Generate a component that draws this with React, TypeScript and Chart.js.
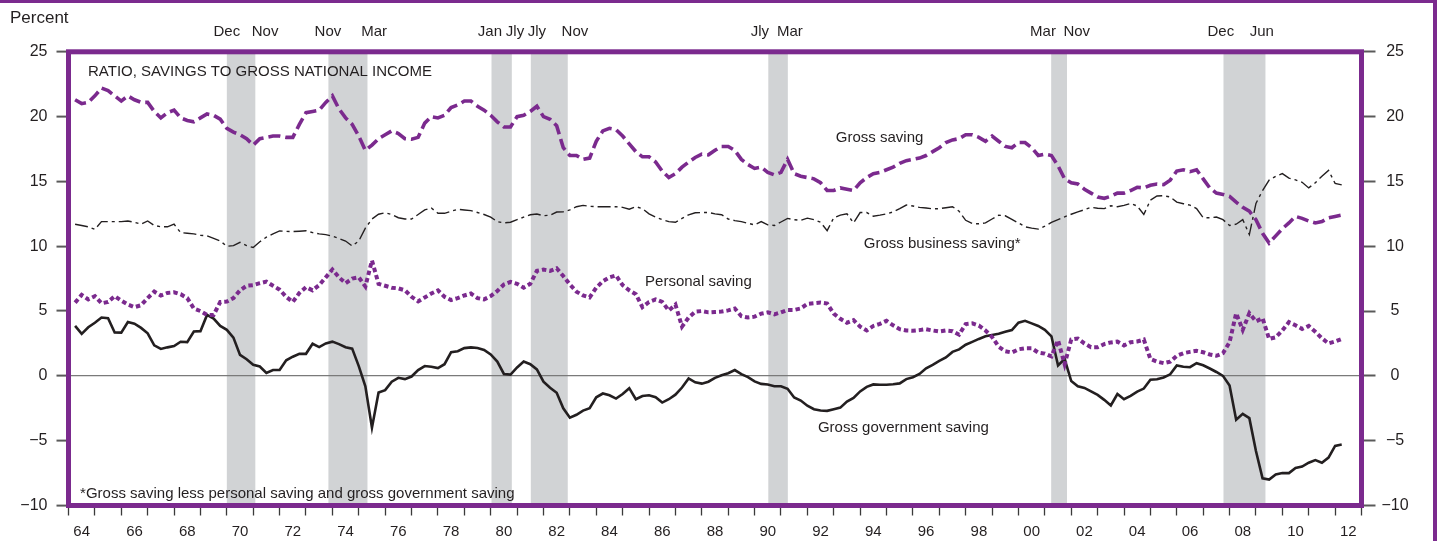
import React, { useEffect, useRef } from 'react';
import { Chart, registerables } from 'chart.js';

Chart.register(...registerables);

// Quarterly observations, 1964Q1 .. 2012Q1 (plotted at quarter end)
const START_YEAR = 1964;

const grossSaving = [
  21.3, 21.0, 21.1, 21.6, 22.2, 22.0, 21.6, 21.2, 21.6, 21.3,
  21.1, 21.1, 20.4, 19.9, 20.3, 20.5, 19.9, 19.7, 19.6, 19.9,
  20.2, 20.1, 19.8, 19.1, 18.8, 18.6, 18.3, 17.8, 18.3, 18.4,
  18.5, 18.5, 18.4, 18.4, 19.4, 20.3, 20.4, 20.5, 21.1, 21.6,
  20.6, 19.9, 19.4, 18.5, 17.4, 17.8, 18.3, 18.6, 18.9, 18.7,
  18.3, 18.25, 18.4, 19.5, 20.0, 19.9, 20.1, 20.7, 20.9, 21.2,
  21.2, 20.8, 20.5, 20.1, 19.6, 19.2, 19.2, 20.0, 20.1, 20.4,
  20.8, 20.0, 19.8, 19.3, 17.6, 17.0, 17.0, 16.7, 16.8, 18.1,
  18.9, 19.1, 19.0, 18.5, 17.9, 17.3, 16.9, 16.9, 16.5, 15.8,
  15.3, 15.6, 16.1, 16.5, 16.85, 17.1, 17.05, 17.4, 17.7, 17.7,
  17.4, 16.7, 16.3, 16.0, 16.1, 15.7, 15.5, 15.7, 16.7, 15.6,
  15.4, 15.3, 15.2, 14.9, 14.3, 14.3, 14.5, 14.4, 14.3, 14.9,
  15.3, 15.6, 15.7, 15.9, 16.1, 16.4, 16.6, 16.7, 16.8, 17.0,
  17.3, 17.6, 18.0, 18.2, 18.3, 18.6, 18.6, 18.4, 18.1, 18.5,
  18.1, 17.7, 17.6, 18.0, 18.0, 17.6, 17.0, 17.1, 17.0, 16.2,
  15.2, 14.9, 14.8, 14.4, 14.1, 13.8, 13.7, 13.85, 14.1, 14.1,
  14.3, 14.55, 14.5, 14.7, 14.8, 14.75, 15.1, 15.8, 15.9, 15.75,
  15.9, 15.2, 14.5, 14.1, 14.0, 13.85, 13.4, 13.0, 12.7, 12.05,
  11.0, 10.25, 10.8, 11.35, 11.8, 12.3, 12.15, 11.95, 11.8, 11.9,
  12.2, 12.3, 12.4,
];

const businessSaving = [
  11.7, 11.6, 11.5, 11.3, 11.9, 11.9, 11.9, 11.9, 11.95, 11.85,
  11.7, 11.95, 11.6, 11.5, 11.5, 11.7, 11.05, 11.0, 10.95, 10.85,
  10.8, 10.6, 10.4, 10.0, 10.05, 10.3, 10.05, 9.9, 10.35, 10.7,
  10.95, 11.18, 11.15, 11.13, 11.16, 11.2, 11.05, 10.95, 10.9, 10.78,
  10.6, 10.4, 10.02, 10.4, 11.4, 12.1, 12.47, 12.58, 12.45, 12.2,
  12.1, 12.1, 12.45, 12.8, 12.95, 12.55, 12.54, 12.7, 12.85, 12.8,
  12.75, 12.6, 12.45, 12.25, 11.9, 11.8, 11.85, 12.05, 12.25, 12.43,
  12.49, 12.35, 12.4, 12.64, 12.66, 12.8, 13.05, 13.15, 13.08, 13.05,
  13.05, 13.05, 13.05, 13.0, 12.86, 13.05, 12.9, 12.5, 12.25, 12.05,
  11.9, 11.85, 12.15, 12.42, 12.58, 12.6, 12.6, 12.5, 12.43, 12.1,
  11.98, 11.9, 11.77, 11.65, 11.9, 11.65, 11.6, 11.87, 12.15, 12.05,
  12.0, 12.17, 12.05, 11.85, 11.2, 12.2, 12.4, 12.5, 11.8, 12.6,
  12.6, 12.32, 12.4, 12.5, 12.65, 12.9, 13.18, 13.1, 13.0, 12.95,
  12.88, 12.9, 12.97, 13.05, 12.7, 12.0, 11.75, 11.73, 11.8, 12.1,
  12.4, 12.35, 12.07, 11.8, 11.5, 11.4, 11.32, 11.55, 11.84, 12.05,
  12.27, 12.47, 12.65, 12.82, 13.0, 12.93, 12.9, 13.12, 13.05, 13.15,
  13.3, 13.1, 12.45, 13.55, 13.88, 13.9, 13.8, 13.4, 13.28, 13.17,
  12.9, 12.2, 12.2, 12.25, 12.05, 11.6, 11.7, 12.05, 10.9, 13.3,
  14.3, 15.1, 15.4, 15.6, 15.25, 15.12, 14.93, 14.5, 14.9, 15.4,
  15.85, 14.85, 14.73,
];

const personalSaving = [
  5.65, 6.25, 5.9, 6.15, 5.6, 5.7, 6.15, 5.8, 5.5, 5.3,
  5.45, 6.0, 6.5, 6.2, 6.4, 6.45, 6.3, 6.0, 5.2, 5.0,
  4.7, 4.7, 5.7, 5.73, 6.0, 6.6, 6.95, 7.0, 7.15, 7.27,
  6.95, 6.65, 6.1, 5.7, 6.4, 6.85, 6.6, 7.0, 7.6, 8.2,
  7.6, 7.15, 7.5, 7.6, 6.9, 8.9, 7.1, 6.95, 6.8, 6.75,
  6.6, 6.1, 5.75, 6.05, 6.35, 6.6, 6.1, 5.85, 6.0, 6.2,
  6.35, 6.0, 5.9, 6.15, 6.55, 7.05, 7.25, 7.1, 6.8, 7.1,
  8.1, 8.2, 8.1, 8.3, 7.7, 7.05, 6.5, 6.2, 6.05, 6.8,
  7.3, 7.6, 7.75, 7.0, 6.6, 6.3, 5.3, 5.7, 5.9, 5.7,
  5.05, 5.5, 3.8, 4.5, 4.95, 5.0, 4.9, 4.93, 4.96, 5.05,
  5.2, 4.6, 4.5, 4.57, 4.8, 4.9, 4.75, 4.9, 5.09, 5.09,
  5.2, 5.55, 5.6, 5.65, 5.58, 4.8, 4.4, 4.1, 4.3, 3.8,
  3.5, 3.85, 4.01, 4.25, 3.9, 3.6, 3.5, 3.48, 3.53, 3.6,
  3.5, 3.42, 3.5, 3.45, 3.18, 4.0, 4.05, 3.88, 3.5, 3.0,
  2.25, 1.9, 1.8, 2.05, 2.13, 2.13, 1.8, 1.72, 1.5, 2.75,
  0.9, 2.8, 2.88, 2.5, 2.21, 2.21, 2.45, 2.58, 2.64, 2.35,
  2.6, 2.65, 2.8, 1.3, 1.1, 0.98, 1.1, 1.55, 1.75, 1.85,
  1.93, 1.82, 1.65, 1.55, 1.75, 2.6, 4.83, 3.55, 4.83, 4.2,
  4.45, 2.85, 2.97, 3.5, 4.15, 3.9, 3.62, 3.85, 3.4, 2.9,
  2.5, 2.65, 2.85,
];

const governmentSaving = [
  3.86, 3.24, 3.75, 4.1, 4.5, 4.45, 3.35, 3.34, 4.15, 4.02,
  3.7, 3.28, 2.35, 2.08, 2.2, 2.3, 2.63, 2.6, 3.42, 3.45,
  4.7, 4.42, 3.85, 3.55, 2.95, 1.62, 1.28, 0.85, 0.72, 0.22,
  0.45, 0.46, 1.2, 1.48, 1.7, 1.7, 2.48, 2.22, 2.5, 2.64,
  2.45, 2.21, 2.1, 0.75, -0.8, -4.0, -1.28, -1.1, -0.45, -0.15,
  -0.25, -0.05, 0.45, 0.76, 0.7, 0.6, 0.9, 1.83, 1.9, 2.14,
  2.2, 2.15, 2.0, 1.65, 1.1, 0.15, 0.1, 0.65, 1.1, 0.9,
  0.5, -0.45, -0.92, -1.3, -2.5, -3.23, -3.0, -2.68, -2.5, -1.65,
  -1.36, -1.5, -1.75, -1.4, -0.95, -1.8, -1.55, -1.5, -1.65, -2.06,
  -1.8, -1.45, -0.9, -0.2, -0.5, -0.6, -0.45, -0.15, 0.05, 0.2,
  0.45, 0.13, -0.1, -0.43, -0.62, -0.67, -0.8, -0.8, -1.0, -1.67,
  -1.9, -2.3, -2.57, -2.67, -2.7, -2.58, -2.45, -1.98, -1.7, -1.2,
  -0.85, -0.66, -0.69, -0.69, -0.65, -0.58, -0.25, -0.1, 0.15, 0.58,
  0.85, 1.15, 1.42, 1.85, 2.04, 2.4, 2.62, 2.85, 3.05, 3.15,
  3.25, 3.4, 3.53, 4.1, 4.25, 4.05, 3.85, 3.55, 3.05, 0.8,
  1.3, -0.4, -0.8, -0.93, -1.2, -1.47, -1.85, -2.28, -1.4, -1.8,
  -1.55, -1.22, -0.98, -0.3, -0.26, -0.12, 0.12, 0.8, 0.7, 0.67,
  0.98, 0.82, 0.57, 0.3, 0.0, -0.75, -3.39, -2.93, -3.26, -5.8,
  -7.9, -8.0, -7.6, -7.5, -7.5, -7.1, -7.0, -6.7, -6.5, -6.7,
  -6.3, -5.4, -5.3,
];

// Recession shading (decimal years, as drawn)
const recessionStarts = [1970.0, 1973.85, 1980.03, 1981.52, 1990.52, 2001.24, 2007.77];
const recessionEnds = [1971.08, 1975.33, 1980.8, 1982.92, 1991.26, 2001.84, 2009.36];
const recessionStartLabels = ['Dec', 'Nov', 'Jan', 'Jly', 'Jly', 'Mar', 'Dec'];
const recessionEndLabels = ['Nov', 'Mar', 'Jly', 'Nov', 'Mar', 'Nov', 'Jun'];
// where each month label is centred (decimal years)
const recessionStartLabelAt = [1970.0, 1973.83, 1979.97, 1981.75, 1990.2, 2000.93, 2007.67];
const recessionEndLabelAt = [1971.45, 1975.58, 1980.92, 1983.19, 1991.34, 2002.21, 2009.22];

// Axis ticks
const yTickValues = [-10, -5, 0, 5, 10, 15, 20, 25];
const xAxisMin = 1964;
const xAxisMax = 2013;
const yearLabels = [1964, 1966, 1968, 1970, 1972, 1974, 1976, 1978, 1980, 1982, 1984, 1986, 1988, 1990,
  1992, 1994, 1996, 1998, 2000, 2002, 2004, 2006, 2008, 2010, 2012];

const PURPLE = '#7b2a8e';
const INK = '#231f20';
const FONT = '"Liberation Sans", Arial, Helvetica, sans-serif';

const quarterX = (i: number) => START_YEAR + 0.25 * (i + 1);
const toPoints = (arr: number[]) => arr.map((v, i) => ({ x: quarterX(i), y: v }));
const fmtNum = (v: number) => (v < 0 ? '\u2212' + Math.abs(v) : String(v));

const decorPlugin = {
  id: 'decor',
  beforeDraw(chart: any) {
    const { ctx, chartArea: ca } = chart;
    const x = chart.scales.x;
    ctx.save();
    ctx.fillStyle = '#d1d3d5';
    recessionStarts.forEach((s, i) => {
      const x0 = x.getPixelForValue(s);
      const x1 = x.getPixelForValue(recessionEnds[i]);
      ctx.fillRect(x0, ca.top, x1 - x0, ca.bottom - ca.top);
    });
    ctx.restore();
  },
  afterDraw(chart: any) {
    const { ctx, chartArea: ca, width, height } = chart;
    const x = chart.scales.x;
    const y = chart.scales.y;
    ctx.save();
    // plot frame
    ctx.strokeStyle = PURPLE;
    ctx.lineWidth = 5;
    ctx.strokeRect(ca.left, ca.top, ca.right - ca.left, ca.bottom - ca.top);
    // outer frame lines
    ctx.fillStyle = PURPLE;
    ctx.fillRect(0, 0, width, 3);
    ctx.fillRect(width - 4, 0, 4, height);

    ctx.fillStyle = INK;
    ctx.textBaseline = 'middle';
    // "Percent"
    ctx.font = `17px ${FONT}`;
    ctx.textAlign = 'left';
    ctx.fillText('Percent', 10, 18);
    // recession labels
    ctx.font = `15px ${FONT}`;
    ctx.textAlign = 'center';
    recessionStartLabels.forEach((t, i) => {
      ctx.fillText(t, x.getPixelForValue(recessionStartLabelAt[i]), 32);
      ctx.fillText(recessionEndLabels[i], x.getPixelForValue(recessionEndLabelAt[i]), 32);
    });
    // annotations (data coordinates)
    const notes: [string, number, number][] = [
      ['RATIO, SAVINGS TO GROSS NATIONAL INCOME', 1964.74, 23.45],
      ['Gross saving', 1993.08, 18.35],
      ['Gross business saving*', 1994.14, 10.17],
      ['Personal saving', 1985.85, 7.24],
      ['Gross government saving', 1992.4, -4.03],
      ['*Gross saving less personal saving and gross government saving', 1964.44, -9.1],
    ];
    ctx.textAlign = 'left';
    notes.forEach(([t, xv, yv]) => {
      ctx.fillText(t, x.getPixelForValue(xv), y.getPixelForValue(yv));
    });
    ctx.restore();
  },
};

export default function App() {
  const canvasRef = useRef<HTMLCanvasElement | null>(null);

  useEffect(() => {
    if (!canvasRef.current) return;
    const chart = new Chart(canvasRef.current, {
      type: 'line',
      data: {
        datasets: [
          {
            label: 'Gross saving',
            data: toPoints(grossSaving),
            borderColor: PURPLE,
            borderWidth: 3.6,
            borderDash: [12, 5],
            pointRadius: 0,
            tension: 0,
          },
          {
            label: 'Gross business saving',
            data: toPoints(businessSaving),
            borderColor: INK,
            borderWidth: 1.4,
            borderDash: [13, 4, 3, 4],
            pointRadius: 0,
            tension: 0,
          },
          {
            label: 'Personal saving',
            data: toPoints(personalSaving),
            borderColor: PURPLE,
            borderWidth: 4,
            borderDash: [4.5, 3],
            pointRadius: 0,
            tension: 0,
          },
          {
            label: 'Gross government saving',
            data: toPoints(governmentSaving),
            borderColor: INK,
            borderWidth: 2.6,
            pointRadius: 0,
            tension: 0,
          },
        ],
      },
      options: {
        responsive: false,
        animation: false,
        events: [],
        layout: { padding: { top: 51.8, left: 0, right: 0, bottom: 0 } },
        plugins: {
          legend: { display: false },
          title: { display: false },
          tooltip: { enabled: false },
        },
        scales: {
          x: {
            type: 'linear',
            position: 'bottom',
            min: xAxisMin,
            max: xAxisMax,
            afterBuildTicks: (scale: any) => {
              const ticks = [];
              for (let yr = xAxisMin; yr < xAxisMax; yr++) ticks.push({ value: yr + 0.5 });
              scale.ticks = ticks;
            },
            afterFit: (scale: any) => {
              scale.height = 35.5;
            },
            border: { display: false },
            grid: {
              offset: true,
              drawOnChartArea: false,
              drawTicks: true,
              tickLength: 10,
              tickColor: '#3a3a3a',
              tickWidth: 1.3,
              color: '#3a3a3a',
            },
            ticks: {
              autoSkip: false,
              maxRotation: 0,
              minRotation: 0,
              padding: 7,
              color: INK,
              font: { family: FONT, size: 15 },
              callback: (v: any) => {
                const yr = Math.floor(Number(v));
                return yearLabels.includes(yr) ? String(yr % 100).padStart(2, '0') : '';
              },
            },
          },
          y: {
            type: 'linear',
            position: 'left',
            min: -10,
            max: 25,
            afterBuildTicks: (scale: any) => {
              scale.ticks = yTickValues.map((v) => ({ value: v }));
            },
            afterFit: (scale: any) => {
              scale.width = 68.5;
            },
            border: { display: false },
            grid: {
              drawOnChartArea: true,
              drawTicks: true,
              tickLength: 12,
              tickColor: '#5a5a5a',
              tickWidth: 2,
              color: (c: any) => (c.tick && c.tick.value === 0 ? '#7a7a7a' : 'rgba(0,0,0,0)'),
              lineWidth: 1.2,
            },
            ticks: {
              padding: 9,
              color: INK,
              font: { family: FONT, size: 16 },
              callback: (v: any) => fmtNum(Number(v)),
            },
          },
          y2: {
            type: 'linear',
            position: 'right',
            min: -10,
            max: 25,
            afterBuildTicks: (scale: any) => {
              scale.ticks = yTickValues.map((v) => ({ value: v }));
            },
            afterFit: (scale: any) => {
              scale.width = 75.5;
            },
            border: { display: false },
            grid: {
              drawOnChartArea: false,
              drawTicks: true,
              tickLength: 14,
              tickColor: '#5a5a5a',
              tickWidth: 2,
            },
            ticks: {
              padding: 6,
              crossAlign: 'center',
              color: INK,
              font: { family: FONT, size: 16 },
              callback: (v: any) => fmtNum(Number(v)),
            },
          },
        },
      },
      plugins: [decorPlugin],
    } as any);
    return () => chart.destroy();
  }, []);

  return (
    <div style={{ position: 'absolute', left: 0, top: 0, width: 1437, height: 541, background: '#fff' }}>
      <canvas ref={canvasRef} width={1437} height={541} style={{ width: 1437, height: 541, display: 'block' }} />
    </div>
  );
}
